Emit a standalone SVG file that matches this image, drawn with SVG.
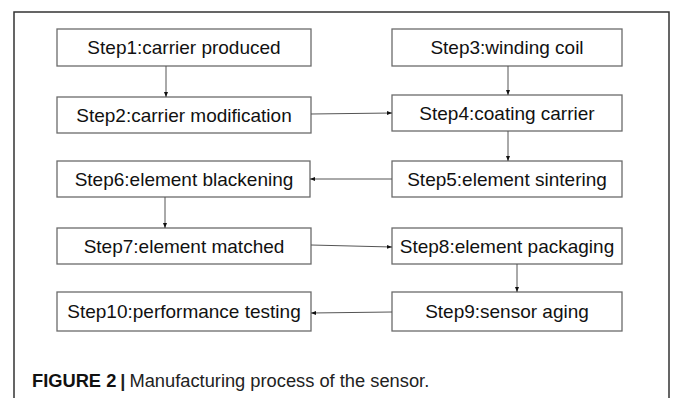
<svg xmlns="http://www.w3.org/2000/svg" width="673" height="398" viewBox="0 0 673 398">
<defs>
<style>
.box rect{fill:#fff;stroke:#6b6b6b;stroke-width:1.3}
.box text{font-family:"Liberation Sans",Arial,sans-serif;font-size:19px;fill:#111;text-anchor:middle;dominant-baseline:central}
.conn line{stroke:#555;stroke-width:1;marker-end:url(#ah)}
.cap{font-family:"Liberation Sans",Arial,sans-serif;font-size:18.3px;fill:#222}
</style>
<marker id="ah" viewBox="0 0 10 10" refX="10" refY="5" markerWidth="5" markerHeight="5" orient="auto" markerUnits="userSpaceOnUse"><path d="M0,1 L10,5 L0,9 z" fill="#111"/></marker>
</defs>
<rect width="673" height="398" fill="#fff"/>
<path d="M14,398 V12 H669 V398" fill="none" stroke="#333" stroke-width="1.5"/>
<g id="step1" class="box"><rect x="57" y="29" width="254" height="37"/><text x="184" y="47.5">Step1:carrier produced</text></g>
<g id="step2" class="box"><rect x="57" y="97" width="254" height="36"/><text x="184" y="115">Step2:carrier modification</text></g>
<g id="step3" class="box"><rect x="392" y="29" width="230" height="37"/><text x="507" y="47.5">Step3:winding coil</text></g>
<g id="step4" class="box"><rect x="392" y="95" width="230" height="36"/><text x="507" y="113">Step4:coating carrier</text></g>
<g id="step5" class="box"><rect x="392" y="161" width="230" height="36"/><text x="507" y="179">Step5:element sintering</text></g>
<g id="step6" class="box"><rect x="57" y="161" width="253" height="36"/><text x="184" y="179">Step6:element blackening</text></g>
<g id="step7" class="box"><rect x="57" y="228" width="254" height="36"/><text x="184" y="246">Step7:element matched</text></g>
<g id="step8" class="box"><rect x="392" y="228" width="230" height="36"/><text x="507" y="246">Step8:element packaging</text></g>
<g id="step9" class="box"><rect x="392" y="292" width="230" height="39"/><text x="507" y="311.5">Step9:sensor aging</text></g>
<g id="step10" class="box"><rect x="57" y="292" width="254" height="39"/><text x="184" y="311.5">Step10:performance testing</text></g>
<g id="connectors" class="conn">
<line x1="166" y1="66" x2="166" y2="97"/>
<line x1="508" y1="66" x2="508" y2="95"/>
<line x1="311" y1="114" x2="392" y2="113"/>
<line x1="508" y1="131" x2="508" y2="161"/>
<line x1="392" y1="179" x2="310" y2="179"/>
<line x1="165" y1="197" x2="165" y2="228"/>
<line x1="311" y1="245" x2="392" y2="247"/>
<line x1="517" y1="264" x2="517" y2="292"/>
<line x1="392" y1="312" x2="311" y2="313"/>
</g>
<text class="cap" x="32" y="387"><tspan font-weight="bold" fill="#111">FIGURE 2</tspan><tspan font-weight="bold" dx="4">|</tspan><tspan dx="4">Manufacturing process of the sensor.</tspan></text>
</svg>
